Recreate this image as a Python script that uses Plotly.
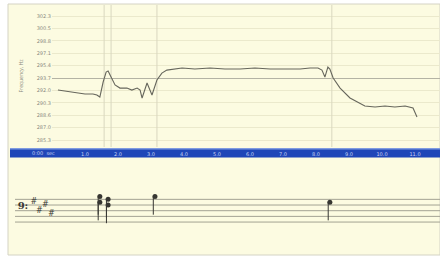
import plotly.graph_objects as go

# ---- data ----
# pitch trace: time (s) and deviation from target (cents)
time_s = [0.18, 0.39, 0.70, 1.00, 1.24, 1.36, 1.45, 1.55, 1.64, 1.70, 1.79, 1.91, 2.06, 2.27,
          2.42, 2.58, 2.67, 2.73, 2.88, 3.03, 3.18, 3.33, 3.48, 3.73, 3.94, 4.33, 4.79, 5.24,
          5.70, 6.15, 6.61, 7.06, 7.52, 7.82, 8.06, 8.18, 8.27, 8.36, 8.42, 8.52, 8.73, 9.03,
          9.33, 9.48, 9.79, 10.09, 10.39, 10.70, 10.94, 11.06]
cents = [-9.7, -10.5, -12.1, -12.9, -12.9, -13.7, -15.3, -3.2, 4.8, 5.6, 0.8, -5.6, -8.1, -8.1,
         -9.7, -8.1, -9.7, -16.1, -4.0, -13.7, -1.6, 4.0, 6.4, 7.3, 8.1, 7.3, 8.1, 7.3,
         7.3, 8.1, 7.3, 7.3, 7.3, 8.1, 8.1, 6.4, 0.8, 8.9, 7.3, 0.0, -8.1, -16.1,
         -20.2, -22.6, -23.4, -22.6, -23.4, -22.6, -24.2, -31.4]

# frequency axis
cent_ticks = [50, 40, 30, 20, 10, 0, -10, -20, -30, -40, -50]
freq_labels = ["302.3", "300.5", "298.8", "297.1", "295.4", "293.7",
               "292.0", "290.3", "288.6", "287.0", "285.3"]

# time axis
time_ticks = [1, 2, 3, 4, 5, 6, 7, 8, 9, 10, 11]
time_labels = ["1.0", "2.0", "3.0", "4.0", "5.0", "6.0", "7.0", "8.0", "9.0", "10.0", "11.0"]

# note onsets (s)
onsets = [1.58, 1.79, 3.18, 8.48]

# notes on staff: time, staff position (0 = bottom line, 4 = top line)
note_t = [1.45, 1.45, 1.70, 1.70, 3.12, 8.42]
note_pos = [4.5, 3.5, 4.0, 3.0, 4.5, 3.5]

# key signature sharps
key_t = [-0.55, -0.38, -0.20, -0.02]
key_pos = [3.5, 2.0, 3.0, 1.5]

BG = "#fcfbe1"
INK = "rgb(55,55,50)"
# ---- figure geometry ----
W, H = 440, 258
px_per_s = 33.0
x0_top = 52.0
top_range = [0, (W - x0_top) / px_per_s]
staff_range = [(10 - x0_top) / px_per_s, (W - x0_top) / px_per_s]

fig = go.Figure()

# onset lines
ox, oy = [], []
for t in onsets:
    ox += [t, t, None]
    oy += [-58, 60, None]
fig.add_trace(go.Scatter(x=ox, y=oy, mode="lines", line=dict(color="#d9d7bf", width=1),
                         hoverinfo="skip", showlegend=False))

fig.add_trace(go.Scatter(x=time_s, y=cents, mode="lines",
                         line=dict(color="#66665c", width=1.1), showlegend=False))

# staff lines
sx, sy = [], []
for k in range(5):
    sx += [(15 - x0_top) / px_per_s, staff_range[1], None]
    sy += [k, k, None]
fig.add_trace(go.Scatter(x=sx, y=sy, mode="lines", line=dict(color="#a3a293", width=1),
                         xaxis="x2", yaxis="y2", hoverinfo="skip", showlegend=False))

# stems
stx, sty = [], []
for t, p in zip(note_t, note_pos):
    stx += [t - 0.05, t - 0.05, None]
    sty += [p, p - 3.2, None]
fig.add_trace(go.Scatter(x=stx, y=sty, mode="lines", line=dict(color=INK, width=1),
                         xaxis="x2", yaxis="y2", hoverinfo="skip", showlegend=False))
fig.add_trace(go.Scatter(x=note_t, y=note_pos, mode="markers",
                         marker=dict(color=INK, size=5, symbol="circle"),
                         xaxis="x2", yaxis="y2", showlegend=False))
# key signature
fig.add_trace(go.Scatter(x=key_t, y=key_pos, mode="text", text=["#"] * len(key_t),
                         marker=dict(color=INK),
                         textfont=dict(size=8, color=INK, family="DejaVu Sans"),
                         xaxis="x2", yaxis="y2", showlegend=False))
# bass clef
fig.add_trace(go.Scatter(x=[-0.88], y=[2.7], mode="text", text=["<b>9:</b>"],
                         marker=dict(color=INK),
                         textfont=dict(size=10, color=INK, family="DejaVu Serif"),
                         xaxis="x2", yaxis="y2", showlegend=False))

def py(p):
    return 1 - p / H

fig.update_layout(
    width=W, height=H, margin=dict(l=0, r=0, t=0, b=0),
    paper_bgcolor="white", plot_bgcolor="rgba(0,0,0,0)",
    xaxis=dict(domain=[x0_top / W, 1], range=top_range, anchor="free", position=py(149.5),
               tickvals=time_ticks, ticktext=time_labels, showgrid=False, zeroline=False,
               showline=False, ticks="", ticklabelstandoff=0,
               tickfont=dict(size=5, color="#c8d4f4", family="DejaVu Sans")),
    yaxis=dict(domain=[py(147), py(5)], range=[-55.6, 58.9], tickvals=cent_ticks,
               ticktext=freq_labels, showgrid=True, gridcolor="#ebe9cc", gridwidth=1,
               zeroline=True, zerolinecolor="#b4b3a4", zerolinewidth=1,
               tickfont=dict(size=5, color="#8a8a80", family="DejaVu Sans"),
               title=dict(text="Frequency, Hz", font=dict(size=5, color="#8a8a80"), standoff=12)),
    xaxis2=dict(domain=[10 / W, 1], range=staff_range, visible=False, anchor="y2"),
    yaxis2=dict(domain=[py(255), py(163)], range=[-5.8, 10.4], visible=False, anchor="x2"),
    shapes=[
        dict(type="rect", xref="paper", yref="paper", x0=8 / W, x1=1, y0=py(255), y1=py(4),
             fillcolor=BG, line=dict(color="#d4d3c4", width=1), layer="below"),
        dict(type="rect", xref="paper", yref="paper", x0=10 / W, x1=1, y0=py(157.5), y1=py(148),
             fillcolor="#1f46b8", line=dict(width=0), layer="below"),
        dict(type="rect", xref="paper", yref="paper", x0=10 / W, x1=1, y0=py(149.5), y1=py(148),
             fillcolor="#7f9be0", line=dict(width=0), layer="below"),
    ],
    annotations=[dict(text="0:00  sec", x=30 / W, y=py(153), xref="paper", yref="paper",
                      showarrow=False, font=dict(size=5, color="#c8d4f4", family="DejaVu Sans"))],
)

fig.write_html("out.html", config={"displayModeBar": False},
               post_script="document.body.style.margin='0';")
